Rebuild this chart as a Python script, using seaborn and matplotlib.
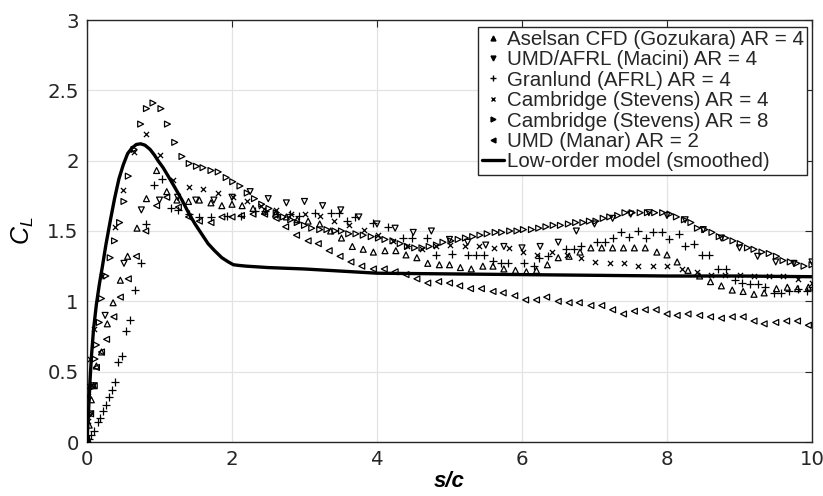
import numpy as np
import pandas as pd
import matplotlib
matplotlib.use("Agg")
import matplotlib.pyplot as plt
from matplotlib.lines import Line2D
import seaborn as sns

# ---------------- data ----------------
aselsan_x = [0.0, 0.01, 0.03, 0.06, 0.09, 0.13, 0.20, 0.28, 0.36, 0.46, 0.56, 0.69, 0.82, 0.96, 1.10,
             1.24, 1.40, 1.55, 1.71, 1.86, 2.00, 2.14, 2.29, 2.45, 2.60, 2.75, 2.90, 3.05, 3.21, 3.36,
             3.51, 3.66, 3.81, 3.95, 4.11, 4.26, 4.40, 4.55, 4.70, 4.86, 5.00, 5.15, 5.30, 5.46, 5.60,
             5.75, 5.91, 6.06, 6.20, 6.35, 6.50, 6.65, 6.80, 6.95, 7.10, 7.25, 7.40, 7.55, 7.70, 7.86,
             8.00, 8.14, 8.29, 8.45, 8.60, 8.75, 8.90, 9.05, 9.20, 9.34, 9.51, 9.66, 9.80, 9.95]
aselsan_y = [0.0, 0.02, 0.12, 0.30, 0.40, 0.54, 0.64, 0.84, 0.99, 1.15, 1.32, 1.52, 1.73, 1.93, 1.78,
             1.72, 1.71, 1.72, 1.70, 1.68, 1.69, 1.68, 1.66, 1.64, 1.62, 1.60, 1.58, 1.57, 1.55, 1.50,
             1.45, 1.39, 1.37, 1.35, 1.36, 1.36, 1.33, 1.31, 1.27, 1.26, 1.26, 1.24, 1.23, 1.25, 1.25,
             1.23, 1.22, 1.21, 1.22, 1.26, 1.31, 1.32, 1.35, 1.38, 1.38, 1.38, 1.38, 1.38, 1.38, 1.35,
             1.33, 1.28, 1.22, 1.18, 1.14, 1.11, 1.08, 1.07, 1.05, 1.06, 1.09, 1.10, 1.09, 1.10]

macini_x = [0.0, 0.05, 0.09, 0.25, 0.51, 0.75, 1.00, 1.25, 1.50, 1.75, 2.00, 2.25, 2.50, 2.75, 3.00,
            3.25, 3.50, 3.75, 4.00, 4.25, 4.50, 4.75, 5.00, 5.25, 5.50, 5.75, 6.00, 6.25, 6.50, 6.75,
            7.00, 7.25, 7.50, 7.75, 8.00, 8.25, 8.50, 8.75, 9.00, 9.25, 9.50, 9.75, 10.0]
macini_y = [0.0, 0.20, 0.40, 0.90, 1.27, 1.65, 1.72, 1.74, 1.72, 1.72, 1.74, 1.78, 1.73, 1.70, 1.71,
            1.68, 1.65, 1.60, 1.55, 1.52, 1.49, 1.50, 1.44, 1.42, 1.40, 1.39, 1.38, 1.39, 1.42, 1.50,
            1.55, 1.59, 1.62, 1.63, 1.61, 1.58, 1.51, 1.45, 1.38, 1.32, 1.28, 1.27, 1.28]

granlund_x = [0.0, 0.03, 0.06, 0.10, 0.15, 0.18, 0.22, 0.26, 0.30, 0.34, 0.39, 0.43, 0.48, 0.54, 0.59,
              0.66, 0.75, 0.82, 0.92, 1.03, 1.16, 1.25, 1.40, 1.55, 1.71, 1.93, 2.13, 2.32, 2.46, 2.62,
              2.80, 2.93, 3.14, 3.37, 3.47, 3.58, 3.70, 3.94, 4.15, 4.36, 4.48, 4.69, 4.82, 5.04, 5.25,
              5.37, 5.48, 5.60, 5.71, 5.81, 6.03, 6.16, 6.24, 6.36, 6.60, 6.72, 6.82, 7.03, 7.14, 7.25,
              7.36, 7.47, 7.60, 7.71, 7.81, 7.93, 8.03, 8.16, 8.25, 8.37, 8.48, 8.58, 8.71, 8.81, 8.94,
              9.04, 9.14, 9.25, 9.35, 9.47, 9.57, 9.68, 9.81, 9.93, 10.0]
granlund_y = [0.0, 0.02, 0.05, 0.08, 0.14, 0.17, 0.22, 0.26, 0.32, 0.37, 0.43, 0.57, 0.61, 0.79, 0.87,
              1.08, 1.27, 1.55, 1.83, 1.87, 1.66, 1.65, 1.62, 1.60, 1.60, 1.61, 1.61, 1.64, 1.64, 1.62,
              1.62, 1.61, 1.63, 1.63, 1.63, 1.57, 1.60, 1.56, 1.53, 1.45, 1.45, 1.45, 1.33, 1.34, 1.33,
              1.33, 1.33, 1.29, 1.27, 1.27, 1.27, 1.25, 1.31, 1.32, 1.37, 1.37, 1.39, 1.42, 1.42, 1.45,
              1.49, 1.46, 1.50, 1.45, 1.49, 1.49, 1.44, 1.48, 1.39, 1.41, 1.33, 1.33, 1.23, 1.23, 1.15,
              1.13, 1.12, 1.12, 1.10, 1.06, 1.06, 1.07, 1.09, 1.07, 1.10]

stevens4_x = [0.0, 0.01, 0.02, 0.03, 0.04, 0.10, 0.20, 0.39, 0.50, 0.65, 0.81, 1.01, 1.19, 1.41, 1.60,
              1.81, 2.01, 2.20, 2.40, 2.61, 2.81, 3.00, 3.21, 3.41, 3.62, 3.82, 4.02, 4.22, 4.41, 4.62,
              4.81, 5.00, 5.21, 5.41, 5.61, 5.82, 6.01, 6.21, 6.41, 6.62, 6.81, 7.01, 7.21, 7.41, 7.60,
              7.81, 8.00, 8.20, 8.41, 8.60, 8.80, 9.01, 9.20, 9.40, 9.60, 9.81, 10.0]
stevens4_y = [0.0, 0.15, 0.33, 0.40, 0.59, 0.80, 1.18, 1.53, 1.79, 2.06, 2.19, 2.04, 1.86, 1.81, 1.80,
              1.77, 1.74, 1.71, 1.68, 1.65, 1.62, 1.62, 1.61, 1.57, 1.54, 1.51, 1.47, 1.43, 1.39, 1.37,
              1.39, 1.40, 1.39, 1.39, 1.38, 1.38, 1.35, 1.33, 1.35, 1.33, 1.31, 1.28, 1.27, 1.27, 1.25,
              1.25, 1.25, 1.23, 1.21, 1.19, 1.19, 1.19, 1.18, 1.18, 1.18, 1.16, 1.13]

stevens8_x = [0.0, 0.04, 0.08, 0.11, 0.13, 0.17, 0.20, 0.26, 0.32, 0.38, 0.45, 0.51, 0.57, 0.65, 0.74,
              0.82, 0.91, 1.02, 1.11, 1.21, 1.31, 1.41, 1.51, 1.60, 1.71, 1.81, 1.92, 2.01, 2.11, 2.21,
              2.31, 2.41, 2.51, 2.61, 2.71, 2.81, 2.90, 3.00, 3.10, 3.21, 3.31, 3.42, 3.51, 3.61, 3.71,
              3.81, 3.92, 4.02, 4.11, 4.22, 4.32, 4.42, 4.52, 4.62, 4.72, 4.82, 4.91, 5.02, 5.12, 5.22,
              5.32, 5.42, 5.52, 5.63, 5.72, 5.83, 5.93, 6.02, 6.13, 6.23, 6.33, 6.43, 6.53, 6.64, 6.74,
              6.84, 6.93, 7.02, 7.12, 7.21, 7.32, 7.42, 7.52, 7.63, 7.73, 7.83, 7.94, 8.04, 8.13, 8.24,
              8.33, 8.42, 8.52, 8.62, 8.72, 8.81, 8.91, 9.01, 9.11, 9.20, 9.31, 9.41, 9.51, 9.60, 9.70,
              9.79, 9.89, 10.0]
stevens8_y = [0.0, 0.20, 0.39, 0.59, 0.69, 0.85, 1.02, 1.18, 1.31, 1.43, 1.56, 1.71, 1.89, 2.08, 2.26,
              2.37, 2.41, 2.37, 2.26, 2.13, 2.03, 1.98, 1.96, 1.95, 1.93, 1.92, 1.88, 1.85, 1.82, 1.77,
              1.73, 1.69, 1.66, 1.63, 1.60, 1.58, 1.56, 1.54, 1.52, 1.51, 1.51, 1.50, 1.50, 1.48, 1.48,
              1.47, 1.46, 1.45, 1.44, 1.43, 1.41, 1.39, 1.38, 1.38, 1.39, 1.40, 1.42, 1.43, 1.44, 1.45,
              1.46, 1.47, 1.48, 1.49, 1.49, 1.50, 1.50, 1.51, 1.51, 1.52, 1.53, 1.54, 1.54, 1.55, 1.56,
              1.56, 1.57, 1.57, 1.59, 1.60, 1.61, 1.63, 1.63, 1.63, 1.63, 1.63, 1.63, 1.62, 1.60, 1.58,
              1.56, 1.52, 1.51, 1.49, 1.46, 1.45, 1.43, 1.41, 1.38, 1.37, 1.35, 1.34, 1.32, 1.29, 1.28,
              1.27, 1.25, 1.26]

manar_x = [0.0, 0.05, 0.10, 0.13, 0.20, 0.27, 0.37, 0.46, 0.57, 0.68, 0.81, 0.96, 1.10, 1.26, 1.40,
           1.55, 1.71, 1.86, 2.00, 2.13, 2.29, 2.45, 2.61, 2.74, 2.89, 3.05, 3.19, 3.34, 3.49, 3.64,
           3.79, 3.95, 4.10, 4.25, 4.40, 4.55, 4.70, 4.85, 5.00, 5.14, 5.29, 5.44, 5.60, 5.74, 5.90,
           6.05, 6.20, 6.34, 6.50, 6.65, 6.79, 6.95, 7.10, 7.25, 7.40, 7.55, 7.70, 7.85, 8.00, 8.14,
           8.29, 8.45, 8.60, 8.75, 8.90, 9.05, 9.20, 9.34, 9.50, 9.65, 9.80, 9.95]
manar_y = [0.0, 0.20, 0.40, 0.53, 0.64, 0.73, 0.89, 1.03, 1.16, 1.32, 1.50, 1.68, 1.74, 1.67, 1.60,
           1.57, 1.56, 1.60, 1.60, 1.61, 1.62, 1.62, 1.59, 1.53, 1.47, 1.43, 1.41, 1.36, 1.32, 1.28,
           1.25, 1.23, 1.23, 1.21, 1.19, 1.16, 1.13, 1.14, 1.13, 1.11, 1.09, 1.09, 1.07, 1.06, 1.04,
           1.01, 1.01, 1.03, 1.00, 0.99, 0.99, 0.97, 0.97, 0.94, 0.91, 0.93, 0.94, 0.94, 0.91, 0.90,
           0.91, 0.90, 0.89, 0.88, 0.89, 0.89, 0.86, 0.84, 0.85, 0.86, 0.86, 0.83]

model_x = [0.0, 0.02, 0.04, 0.06, 0.09, 0.13, 0.17, 0.21, 0.26, 0.32, 0.38, 0.44, 0.50, 0.56, 0.62,
           0.68, 0.74, 0.80, 0.87, 0.93, 0.98, 1.05, 1.12, 1.20, 1.31, 1.40, 1.49, 1.58, 1.67, 1.76,
           1.86, 1.95, 2.02, 2.10, 2.20, 2.50, 3.00, 3.50, 4.00, 5.00, 6.00, 7.00, 8.00, 9.00, 10.0]
model_y = [0.0, 0.20, 0.42, 0.60, 0.80, 0.98, 1.12, 1.24, 1.40, 1.57, 1.73, 1.87, 1.97, 2.05, 2.09,
           2.115, 2.12, 2.11, 2.08, 2.04, 2.00, 1.95, 1.89, 1.82, 1.72, 1.63, 1.55, 1.48, 1.41, 1.36,
           1.31, 1.28, 1.26, 1.255, 1.25, 1.24, 1.23, 1.215, 1.20, 1.195, 1.19, 1.185, 1.18, 1.18, 1.175]

series_labels = ["Aselsan CFD (Gozukara) AR = 4", "UMD/AFRL (Macini) AR = 4", "Granlund (AFRL) AR = 4",
                 "Cambridge (Stevens) AR = 4", "Cambridge (Stevens) AR = 8", "UMD (Manar) AR = 2"]
model_label = "Low-order model (smoothed)"
x_ticks = [0, 2, 4, 6, 8, 10]
x_ticklabels = ["0", "2", "4", "6", "8", "10"]
y_ticks = [0, 0.5, 1, 1.5, 2, 2.5, 3]
y_ticklabels = ["0", "0.5", "1", "1.5", "2", "2.5", "3"]

# ---------------- styling ----------------
sns.set_theme(style="whitegrid")
plt.rcParams["font.family"] = ["Liberation Sans", "DejaVu Sans"]
plt.rcParams["mathtext.fontset"] = "custom"
plt.rcParams["mathtext.rm"] = "Liberation Sans"
plt.rcParams["mathtext.it"] = "Liberation Sans:italic"

fig = plt.figure(figsize=(8.23, 4.96), dpi=100)
ax = fig.add_axes([87 / 823, 1 - 442 / 496, 725 / 823, 422 / 496])
ax.set_facecolor("white")

series = [
    (aselsan_x, aselsan_y, "^", 18, True),
    (macini_x, macini_y, "v", 18, True),
    (granlund_x, granlund_y, "+", 30, False),
    (stevens4_x, stevens4_y, "x", 14, False),
    (stevens8_x, stevens8_y, ">", 18, True),
    (manar_x, manar_y, "<", 18, True),
]
for (xs, ys, mk, sz, hollow), lab in zip(series, series_labels):
    df = pd.DataFrame({"s/c": xs, "CL": ys})
    sns.scatterplot(data=df, x="s/c", y="CL", marker=mk, s=sz, color="black",
                    linewidth=0.9, ax=ax, legend=False, zorder=3)
    if hollow:
        ax.collections[-1].set_facecolor("none")
        ax.collections[-1].set_edgecolor("black")

dfm = pd.DataFrame({"s/c": model_x, "CL": model_y})
sns.lineplot(data=dfm, x="s/c", y="CL", color="black", linewidth=2.4, sort=False,
             estimator=None, ax=ax, legend=False, zorder=4)

ax.set_xlim(0, 10)
ax.set_ylim(0, 3)
ax.set_xticks(x_ticks)
ax.set_xticklabels(x_ticklabels)
ax.set_yticks(y_ticks)
ax.set_yticklabels(y_ticklabels)
ax.grid(True, color="#e3e3e3", linewidth=0.9)
ax.set_axisbelow(True)
for sp in ax.spines.values():
    sp.set_color("#262626")
    sp.set_linewidth(1.0)
    sp.set_visible(True)
ax.tick_params(direction="in", top=True, right=True, length=5, width=0.8,
               colors="#262626", labelsize=14.2, pad=6)
for lbl in ax.get_xticklabels() + ax.get_yticklabels():
    lbl.set_fontfamily(["DejaVu Sans"])

ax.set_xlabel("s/c", fontsize=16, fontweight="bold", fontstyle="italic", color="black", labelpad=1)
ax.set_ylabel(r"$C_L$", fontsize=18, color="black", labelpad=8)

handles = [
    Line2D([], [], ls="", marker="^", color="black", markersize=3.5),
    Line2D([], [], ls="", marker="v", color="black", markersize=3.5),
    Line2D([], [], ls="", marker="+", color="black", markersize=5, markeredgewidth=1),
    Line2D([], [], ls="", marker="x", color="black", markersize=3.5, markeredgewidth=1),
    Line2D([], [], ls="", marker=">", color="black", markersize=3.5),
    Line2D([], [], ls="", marker="<", color="black", markersize=3.5),
    Line2D([], [], color="black", linewidth=2.4),
]
leg = ax.legend(handles, series_labels + [model_label], loc="upper right",
                bbox_to_anchor=(0.9927, 0.9841), borderaxespad=0, fontsize=14.8,
                frameon=True, fancybox=False, framealpha=1, edgecolor="#262626",
                handlelength=1.1, handletextpad=0.12, labelspacing=0.07, borderpad=0.15)
leg.get_frame().set_linewidth(1.0)

fig.savefig("out.png", dpi=100, facecolor="white")
